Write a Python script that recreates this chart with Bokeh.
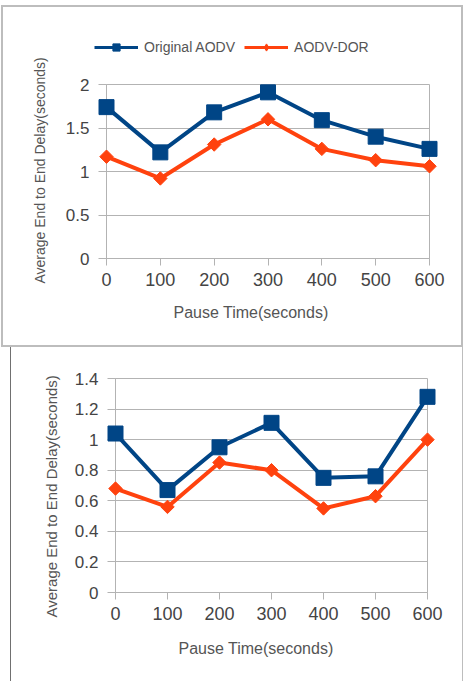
import math
from bokeh.plotting import figure
from bokeh.layouts import column
from bokeh.models import (Range1d, FixedTicker, NumeralTickFormatter, Legend,
                          LegendItem, Title)
from bokeh.embed import file_html
from bokeh.resources import INLINE

# ---- data -------------------------------------------------------------
pause_time = [0, 100, 200, 300, 400, 500, 600]
x_ticks = [0, 100, 200, 300, 400, 500, 600]

top_original_aodv = [1.74, 1.22, 1.68, 1.91, 1.59, 1.40, 1.26]
top_aodv_dor = [1.17, 0.92, 1.31, 1.60, 1.26, 1.13, 1.06]
top_y_ticks = [0, 0.5, 1, 1.5, 2]

bottom_original_aodv = [1.04, 0.67, 0.95, 1.11, 0.75, 0.76, 1.28]
bottom_aodv_dor = [0.68, 0.56, 0.85, 0.80, 0.55, 0.63, 1.00]
bottom_y_ticks = [0, 0.2, 0.4, 0.6, 0.8, 1.0, 1.2, 1.4]

series_names = ["Original AODV", "AODV-DOR"]
x_title = "Pause Time(seconds)"
y_title = "Average End to End Delay(seconds)"

# ---- style ------------------------------------------------------------
BLUE = "#004586"
ORANGE = "#ff420e"
GRID = "#b3b3b3"
BOX = "#bdbdbd"
FONT = "Liberation Sans"
TICK_COLOR = "#444444"
TITLE_COLOR = "#555555"

BLUE_LINE = dict(line_color=BLUE, line_width=4)
BLUE_MARK = dict(marker="square", size=15, fill_color=BLUE, line_color=BLUE)
ORANGE_LINE = dict(line_color=ORANGE, line_width=4)
ORANGE_MARK = dict(marker="square", angle=math.pi / 4, size=9.5,
                   fill_color=ORANGE, line_color=ORANGE)


def make_chart(aodv, dor, y_ticks, frame_w, frame_h, borders, margin, styles,
               xt_offset, xt_standoff, yt_offset, yt_standoff, yt_size):
    left, top, right, bottom = borders
    p = figure(frame_width=frame_w, frame_height=frame_h,
               min_border_left=left, min_border_top=top,
               min_border_right=right, min_border_bottom=bottom,
               x_range=Range1d(x_ticks[0], x_ticks[-1]),
               y_range=Range1d(y_ticks[0], y_ticks[-1]),
               toolbar_location=None, output_backend="svg",
               margin=margin, styles=styles)
    p.border_fill_alpha = 0
    p.background_fill_color = "white"
    p.outline_line_color = GRID
    p.outline_line_width = 1

    p.xgrid.grid_line_color = None
    p.ygrid.grid_line_color = GRID
    p.ygrid.ticker = FixedTicker(ticks=y_ticks)

    p.xaxis.ticker = FixedTicker(ticks=x_ticks)
    p.yaxis.ticker = FixedTicker(ticks=y_ticks)
    p.yaxis.formatter = NumeralTickFormatter(format="0.[0]")
    for ax in (p.xaxis, p.yaxis):
        ax.axis_line_color = GRID
        ax.major_tick_line_color = GRID
        ax.minor_tick_line_color = None
        ax.major_tick_in = 0
        ax.major_label_text_font = FONT
        ax.major_label_text_color = TICK_COLOR
    p.xaxis.major_tick_out = 7
    p.yaxis.major_tick_out = 8
    p.xaxis.major_label_standoff = 7
    p.yaxis.major_label_standoff = 9
    p.xaxis.major_label_text_font_size = "18px"
    p.yaxis.major_label_text_font_size = "17px"

    p.line(pause_time, aodv, level="overlay", **BLUE_LINE)
    p.scatter(pause_time, aodv, level="overlay", **BLUE_MARK)
    p.line(pause_time, dor, level="overlay", **ORANGE_LINE)
    p.scatter(pause_time, dor, level="overlay", **ORANGE_MARK)

    p.add_layout(Title(text=x_title, align="left", offset=xt_offset,
                       text_font=FONT, text_font_size="16px",
                       text_font_style="normal", text_color=TITLE_COLOR,
                       standoff=xt_standoff), "below")
    p.add_layout(Title(text=y_title, align="left", offset=yt_offset,
                       text_font=FONT, text_font_size=yt_size,
                       text_font_style="normal", text_color=TITLE_COLOR,
                       standoff=yt_standoff), "left")
    return p


# ---- legend strip (top of the first chart's box) ------------------------
# the key renderers hold the top chart's series, but the strip's ranges lie
# away from the data, so only their legend swatches are visible
leg = figure(frame_width=462, frame_height=52, min_border=0,
             x_range=Range1d(-2000, -1000), y_range=Range1d(-20, -10),
             x_axis_type=None, y_axis_type=None,
             toolbar_location=None, output_backend="svg",
             margin=(5, 0, 0, 1),
             styles={"box-shadow": f"inset 2px 2px 0 {BOX}, inset -2px 0 0 {BOX}"})
leg.outline_line_color = None
leg.border_fill_alpha = 0
leg.background_fill_alpha = 0
leg.grid.visible = False
k1 = leg.line(pause_time, top_original_aodv, line_color=BLUE, line_width=3)
k2 = leg.scatter(pause_time, top_original_aodv, marker="square", size=8,
                 fill_color=BLUE, line_color=BLUE)
k3 = leg.line(pause_time, top_aodv_dor, line_color=ORANGE, line_width=3)
k4 = leg.scatter(pause_time, top_aodv_dor, marker="diamond", size=8,
                 fill_color=ORANGE, line_color=ORANGE)
legend = Legend(items=[LegendItem(label=series_names[0], renderers=[k1, k2]),
                       LegendItem(label=series_names[1], renderers=[k3, k4])],
                location=(93, 1), orientation="horizontal",
                glyph_width=44, glyph_height=18, label_height=18,
                label_standoff=6, spacing=9, padding=0, margin=0,
                border_line_color=None, background_fill_alpha=0,
                label_text_font=FONT, label_text_font_size="14px",
                label_text_color=TITLE_COLOR)
leg.add_layout(legend)

top = make_chart(top_original_aodv, top_aodv_dor, top_y_ticks,
                 323, 174, (105, 27, 34, 89), (0, 0, 0, 1),
                 {"box-shadow": f"inset 2px 0 0 {BOX}, inset -2px -2px 0 {BOX}"},
                 67, 27, -25, 29, "14px")

bottom = make_chart(bottom_original_aodv, bottom_aodv_dor, bottom_y_ticks,
                    312, 214, (104, 31, 37, 89), (0, 0, 0, 10),
                    {"box-shadow": f"inset 1px 0 0 #707070, inset -1px 0 0 {BOX}"},
                    63, 31, -25, 23, "15px")

layout = column(leg, top, bottom, spacing=0)
open("out.html", "w").write(file_html(layout, INLINE))
